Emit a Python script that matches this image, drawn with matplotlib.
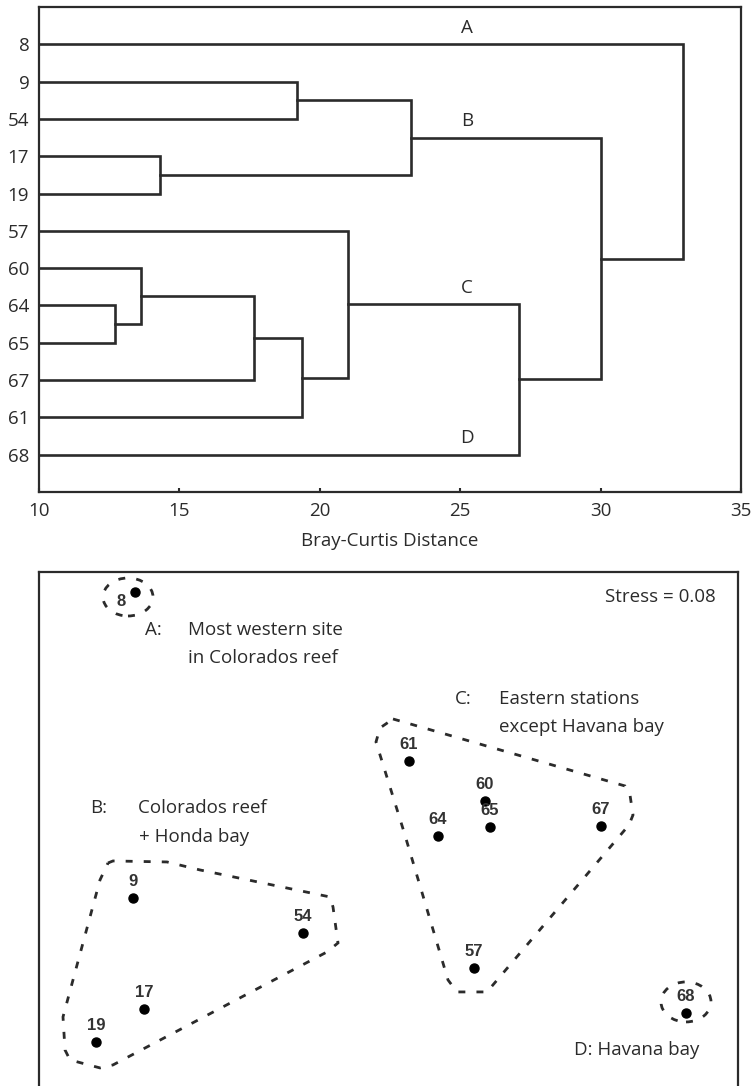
import numpy as np
import matplotlib
matplotlib.use('Agg')
import matplotlib.pyplot as plt
from matplotlib.patches import Ellipse, Polygon

plt.rcParams['font.family'] = ['Open Sans', 'DejaVu Sans']

# Dendrogram data (Bray-Curtis distance)
leaves = ['8', '9', '54', '17', '19', '57', '60', '64', '65', '67', '61', '68']
merge_a = ['9', '17', 'm0', '64', '60', 'm4', 'm5', '57', 'm7', 'm2', '8']
merge_b = ['54', '19', 'm1', '65', 'm3', '67', '61', 'm6', '68', 'm8', 'm9']
merge_h = [19.2, 14.3, 23.25, 12.7, 13.65, 17.65, 19.35, 21.0, 27.1, 30.0, 32.95]
group_names = ['A', 'B', 'C', 'D']
group_nodes = ['8', 'm2', 'm7', '68']

# nMDS ordination data
site_names = ['8', '9', '54', '17', '19', '61', '60', '65', '64', '67', '57', '68']
site_x = [-1.325, -1.335, -0.485, -1.28, -1.52, 0.045, 0.425, 0.45, 0.19, 1.005, 0.37, 1.43]
site_y = [1.04, -0.49, -0.665, -1.045, -1.21, 0.195, -0.005, -0.135, -0.18, -0.13, -0.84, -1.065]
hull_b_x = [-1.46, -1.435, -1.165, -1.0, -0.35, -0.335, -0.31, -0.365, -1.435, -1.5, -1.65, -1.675, -1.685, -1.5]
hull_b_y = [-0.315, -0.305, -0.31, -0.35, -0.485, -0.535, -0.715, -0.76, -1.325, -1.34, -1.3, -1.25, -1.085, -0.4]
hull_c_x = [-0.035, 1.125, 1.15, 1.165, 1.145, 0.435, 0.285, 0.24, 0.02, -0.12, -0.1]
hull_c_y = [0.405, 0.07, 0.025, -0.075, -0.125, -0.96, -0.96, -0.9, -0.16, 0.29, 0.36]
stress = 0.08

ink = '#2b2b2b'
fs = 13.5
fig = plt.figure(figsize=(7.52, 10.86), dpi=100)

# ---- top: dendrogram ----
ax1 = fig.add_axes([39/752, 1 - 492/1086, 702/752, 485/1086])
pos = {name: (10.0, i + 1) for i, name in enumerate(leaves)}
for k, (a, b, h) in enumerate(zip(merge_a, merge_b, merge_h)):
    xa, ya = pos[a]
    xb, yb = pos[b]
    ax1.plot([xa, h, h, xb], [ya, ya, yb, yb], color=ink, lw=1.9, solid_joinstyle='miter')
    pos['m%d' % k] = (h, (ya + yb) / 2)
for g, node in zip(group_names, group_nodes):
    ax1.text(25.25, pos[node][1] - 0.45, g, ha='center', va='center', fontsize=fs, color=ink)
ax1.set_xlim(10, 35)
ax1.set_ylim(13, 0)
ax1.set_xticks(np.arange(10, 36, 5))
ax1.set_yticks(np.arange(1, len(leaves) + 1))
ax1.set_yticklabels(leaves)
ax1.tick_params(axis='x', direction='in', length=3, width=1.5, colors=ink, labelsize=fs, pad=7)
ax1.tick_params(axis='y', length=0, labelsize=fs, colors=ink, pad=7)
ax1.set_xlabel('Bray-Curtis Distance', fontsize=fs, color=ink, labelpad=9)
for s in ax1.spines.values():
    s.set_linewidth(1.6)
    s.set_color(ink)

# ---- bottom: nMDS ----
ax2 = fig.add_axes([39/752, -0.02, 699/752, 1 - 572/1086 + 0.02])
ax2.set_xlim(-1.805, 1.69)
ax2.set_ylim(-1.539, 1.14)
dash = dict(fill=False, edgecolor=ink, lw=2.0, linestyle=(0, (2.5, 4)))
ax2.add_patch(Polygon(np.column_stack([hull_b_x, hull_b_y]), closed=True, **dash))
ax2.add_patch(Polygon(np.column_stack([hull_c_x, hull_c_y]), closed=True, **dash))
ax2.add_patch(Ellipse((-1.36, 1.015), 0.25, 0.19, **dash))
ax2.add_patch(Ellipse((1.43, -1.01), 0.25, 0.2, **dash))
ax2.plot(site_x, site_y, 'o', color='black', ms=6.5)
for name, x, y in zip(site_names, site_x, site_y):
    off = (-10, -7) if name == '8' else (0, 11.5)
    ax2.annotate(name, (x, y), xytext=off, textcoords='offset points', ha='center', va='center',
                 fontsize=12, fontweight='bold', family=['Liberation Sans'], color='#333333')
tk = dict(fontsize=fs, color=ink, va='center')
ax2.text(1.58, 1.015, 'Stress = %.2f' % stress, ha='right', **tk)
ax2.text(-1.235, 0.85, 'A:', ha='center', **tk)
ax2.text(-1.06, 0.85, 'Most western site', ha='left', **tk)
ax2.text(-1.06, 0.71, 'in Colorados reef', ha='left', **tk)
ax2.text(0.315, 0.505, 'C:', ha='center', **tk)
ax2.text(0.495, 0.505, 'Eastern stations', ha='left', **tk)
ax2.text(0.495, 0.365, 'except Havana bay', ha='left', **tk)
ax2.text(-1.505, -0.04, 'B:', ha='center', **tk)
ax2.text(-1.31, -0.04, 'Colorados reef', ha='left', **tk)
ax2.text(-1.305, -0.185, '+ Honda bay', ha='left', **tk)
ax2.text(0.87, -1.25, 'D: Havana bay', ha='left', **tk)
ax2.set_xticks([])
ax2.set_yticks([])
for s in ax2.spines.values():
    s.set_linewidth(1.6)
    s.set_color(ink)

fig.savefig('out.png', dpi=100)
